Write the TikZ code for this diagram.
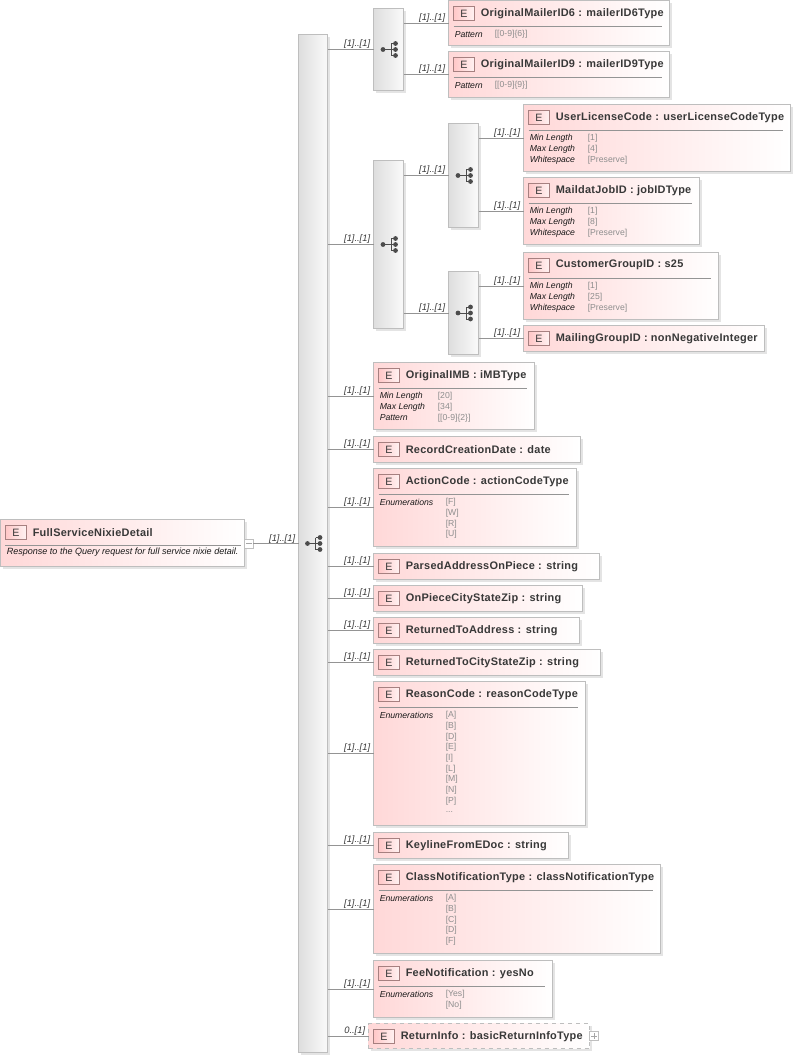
\documentclass[tikz,border=0pt]{standalone}
\usepackage{fontspec}
\setmainfont{Liberation Sans}
\newfontfamily\titlefont[LetterSpace=2.5]{Liberation Sans}
\usetikzlibrary{shadows,calc}
\definecolor{elempink}{HTML}{FFD8D8}
\definecolor{boxline}{HTML}{BEBEBE}
\definecolor{textdark}{HTML}{383838}
\definecolor{valgray}{HTML}{8E8E8E}
\tikzset{
    allboxes/.style={anchor=north west,inner sep=0pt,outer sep=0pt,draw=boxline,line width=0.7pt,
        drop shadow={shadow xshift=1.6pt,shadow yshift=-1.6pt,opacity=.3,fill=gray!70}},
    elembox/.style={allboxes,left color=elempink,middle color=elempink!38,right color=white},
    seqbox/.style={allboxes,left color=black!13,right color=black!2},
    badge/.style={anchor=west,inner sep=0pt,outer sep=0pt,minimum width=15.75pt,minimum height=10.5pt,
        draw=red!30!black!50,line width=0.6pt,left color=red!22,right color=red!5,
        text=textdark,font=\fontsize{8}{9}\selectfont},
    elemtitle/.style={anchor=west,inner sep=0pt,text=textdark,font=\titlefont\fontsize{8.2}{10}\selectfont\bfseries},
    facetlabel/.style={anchor=west,inner sep=0pt,text=black!90,font=\fontsize{6.5}{7}\selectfont\itshape},
    facetval/.style={anchor=west,inner sep=0pt,text=valgray,font=\fontsize{6.5}{7}\selectfont},
    card/.style={inner sep=0pt,text=textdark,font=\fontsize{7}{8}\selectfont\itshape},
    conn/.style={draw=black!42,line width=0.6pt},
    btn/.style={anchor=west,inner sep=0pt,outer sep=0pt,minimum size=6.5pt,draw=black!25,line width=0.5pt,fill=white},
}
\newcommand{\moreval}{...}

% Element box with its E badge and title
\newcommand{\elem}[7][]{%
    \node[elembox,#1,minimum width=#5*0.75pt,minimum height=#6*0.75pt] (#2) at (#3,#4) {};
    \node[badge] (#2-e) at ([shift={(5,13)}]#2.north west) {E};
    \node[elemtitle] (#2-t) at ([shift={(32,12.7)}]#2.north west) {#7};
}
\newcommand{\elemrule}[1]{%
    \draw[conn] ([shift={(5,26)}]#1.north west) -- ([shift={(-8,26)}]#1.north east);
}
% Facet rows: label/value pairs
\newcommand{\facets}[3]{%
    \elemrule{#1}
    \foreach \lab/\val [count=\i] in {#3} {
        \node[facetlabel] (#1-l\i) at ([shift={(6,{34+(\i-1)*10.7})}]#1.north west) {\lab};
        \node[facetval] (#1-v\i) at ([shift={(#2,{34+(\i-1)*10.7})}]#1.north west) {\val};
    }
}
\newcommand{\enums}[2]{%
    \elemrule{#1}
    \node[facetlabel] (#1-l) at ([shift={(6,34)}]#1.north west) {Enumerations};
    \foreach \val [count=\i] in {#2} {
        \node[facetval] (#1-v\i) at ([shift={(72,{34+(\i-1)*10.7})}]#1.north west) {\val};
    }
}
% Sequence compositor with its little tree
\newcommand{\seqnode}[5]{%
    \node[seqbox,minimum width=#4*0.75pt,minimum height=#5*0.75pt] (#1) at (#2,#3) {};
    \draw[black!70,line width=0.6pt] ([shift={(-5.5,0)}]#1.center) -- ([shift={(7,0)}]#1.center)
        ([shift={(2.5,-6)}]#1.center) -- ([shift={(2.5,6)}]#1.center)
        ([shift={(2.5,-6)}]#1.center) -- ([shift={(7,-6)}]#1.center)
        ([shift={(2.5,6)}]#1.center) -- ([shift={(7,6)}]#1.center);
    \foreach \dx/\dy in {-5.5/0,7/-6,7/0,7/6} {
        \fill[black!70] ([shift={(\dx,\dy)}]#1.center) circle (1.8pt);
    }
}
\newcommand{\link}[3]{%
    \draw[conn] (#1.east |- #2.west) -- (#2.west)
        node[card,pos=1,anchor=south east,xshift=-3*0.75pt,yshift=0.2pt] (#2-c) {#3};
}

\begin{document}
\begin{tikzpicture}[x=0.75pt,y=-0.75pt]
    \useasboundingbox (0.5,0.5) rectangle (796.5,1056.5);

    % Root element
    \elem{root}{1}{520}{244}{47}{FullServiceNixieDetail}
    \draw[conn] ([shift={(5,26)}]root.north west) -- ([shift={(-4,26)}]root.north east);
    \node[facetlabel,font=\fontsize{6.78}{8}\selectfont\itshape] (root-d) at ([shift={(6,33)}]root.north west)
        {Response to the Query request for full service nixie detail.};
    \node[btn] (rootbtn) at ([yshift=-0.5pt]root.east) {};
    \draw[black!35,line width=0.4pt] ([xshift=-2pt]rootbtn.center) -- ([xshift=2pt]rootbtn.center);

    % Sequences
    \seqnode{main}{299}{35}{29}{1018}
    \seqnode{seqa}{374}{9}{30}{82}
    \seqnode{seqb}{374}{161}{30}{168}
    \seqnode{seqc}{449}{124}{30}{104}
    \seqnode{seqd}{449}{272}{30}{83}

    % Elements of the first levels
    \elem{mailersix}{449}{1}{221}{45}{OriginalMailerID6 : mailerID6Type}
    \facets{mailersix}{46}{Pattern/{[[0-9]\{6\}]}}
    \elem{mailernine}{449}{52}{221}{46}{OriginalMailerID9 : mailerID9Type}
    \facets{mailernine}{46}{Pattern/{[[0-9]\{9\}]}}
    \elem{license}{524}{105}{267}{67}{UserLicenseCode : userLicenseCodeType}
    \facets{license}{64}{Min Length/[1],Max Length/[4],Whitespace/[Preserve]}
    \elem{jobid}{524}{178}{176}{67}{MaildatJobID : jobIDType}
    \facets{jobid}{64}{Min Length/[1],Max Length/[8],Whitespace/[Preserve]}
    \elem{customer}{524}{253}{195}{67}{CustomerGroupID : s25}
    \facets{customer}{64}{Min Length/[1],Max Length/[25],Whitespace/[Preserve]}
    \elem{mailing}{524}{326}{241}{26}{MailingGroupID : nonNegativeInteger}

    % Children of the main sequence
    \elem{imb}{374}{363}{161}{67}{OriginalIMB : iMBType}
    \facets{imb}{64}{Min Length/[20],Max Length/[34],Pattern/{[[0-9]\{2\}]}}
    \elem{action}{374}{469}{203}{78}{ActionCode : actionCodeType}
    \enums{action}{[F],[W],[R],[U]}
    \elem{reason}{374}{682}{212}{144}{ReasonCode : reasonCodeType}
    \enums{reason}{[A],[B],[D],[E],[I],[L],[M],[N],[P],\moreval}
    \elem{classnot}{374}{865}{287}{89}{ClassNotificationType : classNotificationType}
    \enums{classnot}{[A],[B],[C],[D],[F]}
    \elem{fee}{374}{961}{179}{57}{FeeNotification : yesNo}
    \enums{fee}{[Yes],[No]}
    \foreach \nm/\tp/\w/\ttl in {created/437/207/RecordCreationDate : date,
        parsed/554/226/ParsedAddressOnPiece : string,
        onpiece/586/209/OnPieceCityStateZip : string,
        retaddr/618/206/ReturnedToAddress : string,
        retcity/650/227/ReturnedToCityStateZip : string,
        keyline/833/195/KeylineFromEDoc : string} {
        \elem{\nm}{374}{\tp}{\w}{26}{\ttl}
    }
    \elem[dashed]{retinfo}{369}{1024}{221}{25}{ReturnInfo : basicReturnInfoType}
    \node[btn] (retbtn) at (retinfo.east) {};
    \draw[black!35,line width=0.4pt] ([xshift=-2pt]retbtn.center) -- ([xshift=2pt]retbtn.center)
        ([yshift=-2pt]retbtn.center) -- ([yshift=2pt]retbtn.center);

    % Connectors
    \draw[conn] (rootbtn.east) -- (rootbtn.east -| main.west)
        node[card,pos=1,anchor=south east,xshift=-3*0.75pt,yshift=0.2pt] (main-c) {[1]..[1]};
    \foreach \ch in {seqa,seqb,imb,created,action,parsed,onpiece,retaddr,retcity,reason,keyline,classnot,fee} {
        \link{main}{\ch}{[1]..[1]}
    }
    \link{main}{retinfo}{0..[1]}
    \link{seqa}{mailersix}{[1]..[1]}
    \link{seqa}{mailernine}{[1]..[1]}
    \link{seqb}{seqc}{[1]..[1]}
    \link{seqb}{seqd}{[1]..[1]}
    \link{seqc}{license}{[1]..[1]}
    \link{seqc}{jobid}{[1]..[1]}
    \link{seqd}{customer}{[1]..[1]}
    \link{seqd}{mailing}{[1]..[1]}
\end{tikzpicture}
\end{document}
